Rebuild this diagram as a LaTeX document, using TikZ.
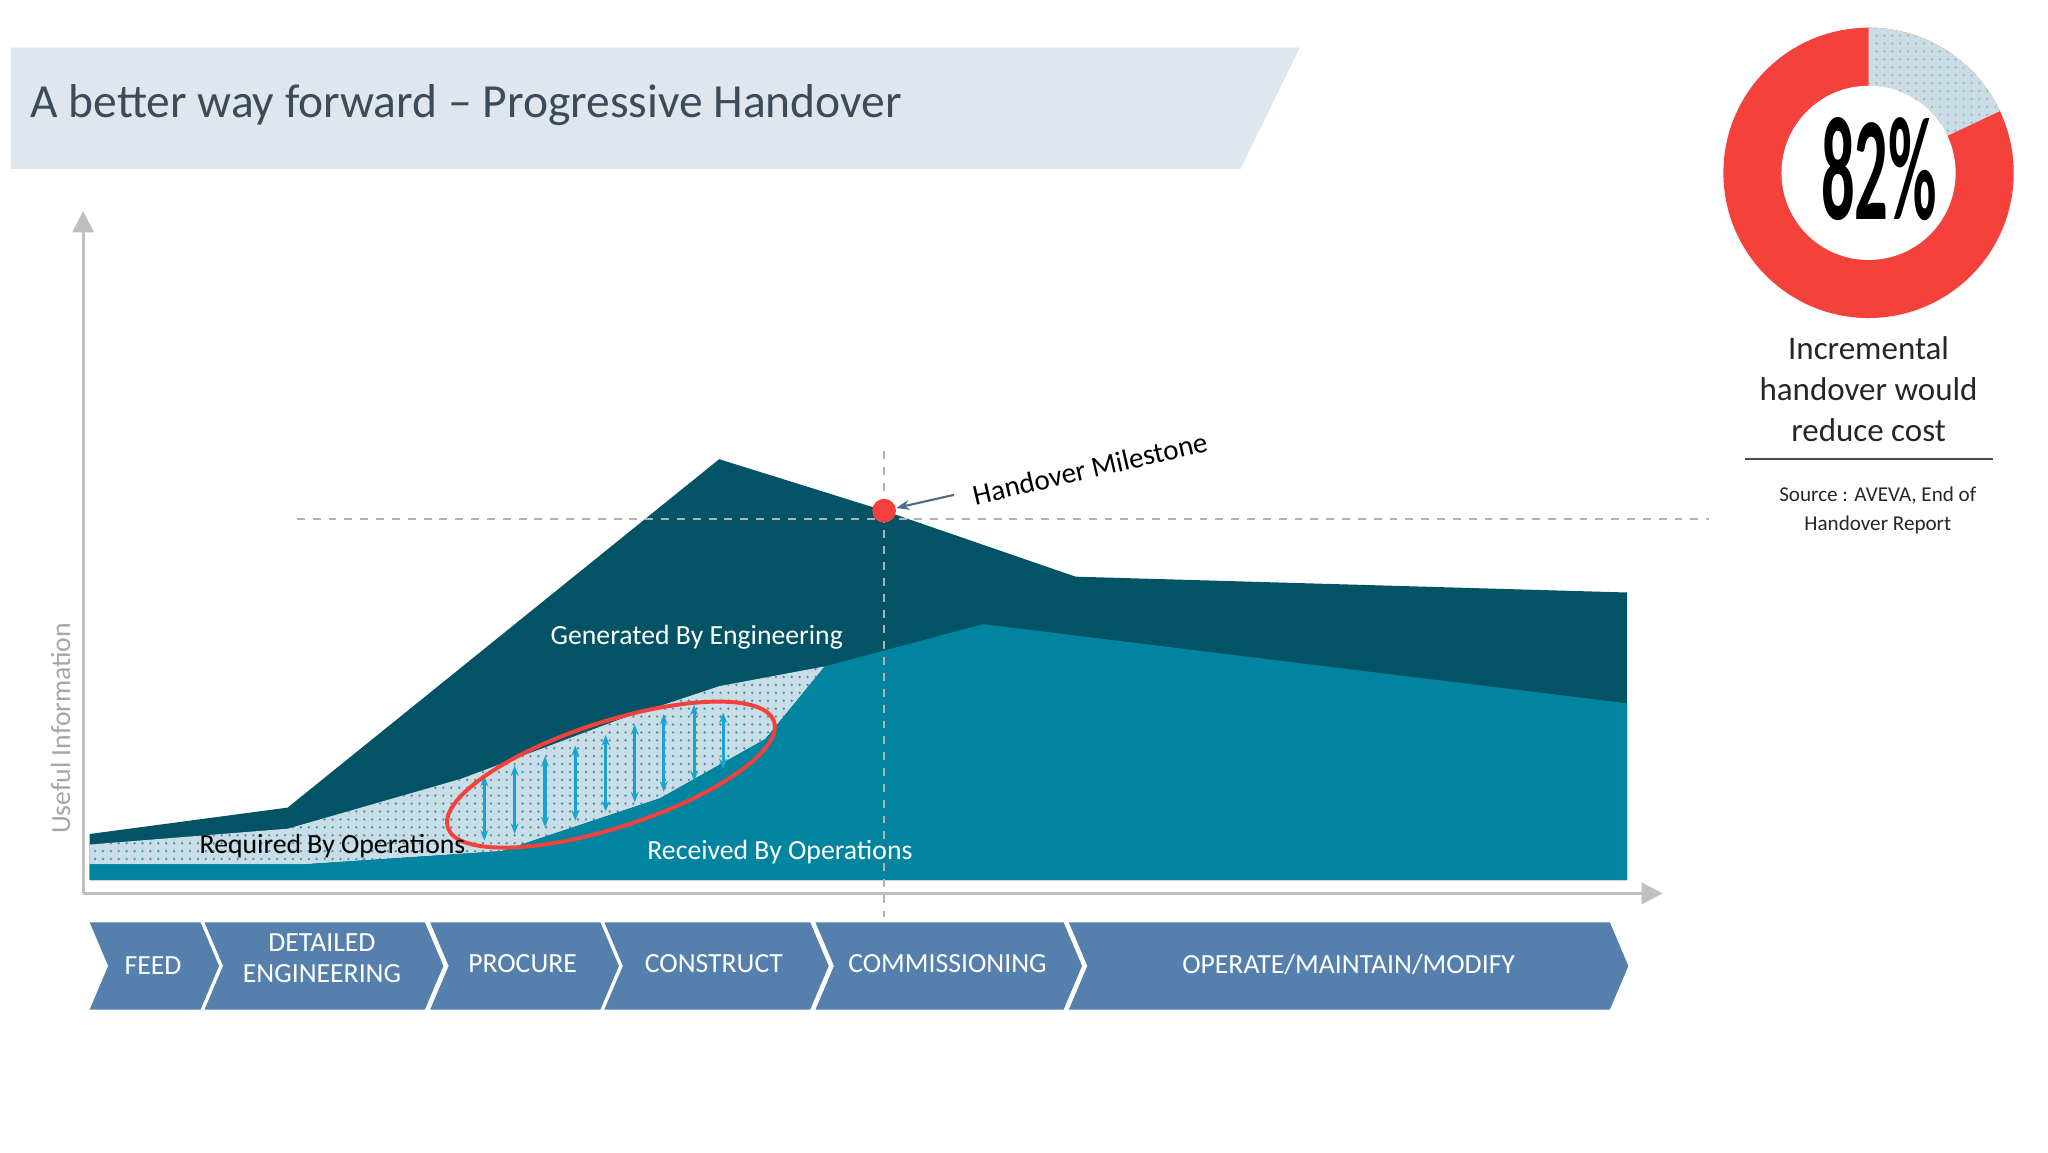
\documentclass[tikz,border=0pt]{standalone}
\usepackage{fontspec}
\setmainfont{Carlito}
\usetikzlibrary{patterns,arrows.meta}
\definecolor{dteal}{HTML}{025366}
\definecolor{mteal}{HTML}{0184A0}
\definecolor{lblue}{HTML}{C9DDE6}
\definecolor{chev}{HTML}{5580AD}
\definecolor{ared}{HTML}{F5413C}
\definecolor{abl}{HTML}{1AA3D0}
\definecolor{ttl}{HTML}{3C4B5A}
\definecolor{banner}{HTML}{DFE6EE}
\definecolor{hmarrow}{HTML}{4A6B8A}
\tikzset{chevron/.style={fill=chev,draw=none},
 ctext/.style={text=white,font=\fontsize{10.5}{11}\selectfont,align=center},
 varrow/.style={abl,line width=1.2pt,{Stealth[length=4pt]}-{Stealth[length=4pt]}},
 dashg/.style={gray!60,dashed,line width=0.8pt}}
\begin{document}
\begin{tikzpicture}[x=0.5pt,y=-0.5pt]
\useasboundingbox (0,0) rectangle (1552,873);
\fill[white] (0,0) rectangle (1552,873);
% banner
\fill[banner] (8,36) -- (985,36) -- (940,128) -- (8,128) -- cycle;
\node[anchor=west,text=ttl,font=\fontsize{18}{20}\selectfont] (title) at (16,80) {A better way forward – Progressive Handover};
% areas
\fill[dteal] (68,632) -- (218,612) -- (545,348) -- (670,387) -- (815,437) -- (1233,449) -- (1233,667) -- (68,667) -- cycle;
\fill[lblue] (68,640) -- (218,628) -- (350,590) -- (470,545) -- (545,520) -- (625,505) -- (580,560) -- (500,605) -- (380,645) -- (230,655) -- (68,655) -- cycle;
\fill[pattern=dots,pattern color=abl!50!gray] (68,640) -- (218,628) -- (350,590) -- (470,545) -- (545,520) -- (625,505) -- (580,560) -- (500,605) -- (380,645) -- (230,655) -- (68,655) -- cycle;
\fill[mteal] (68,655) -- (230,655) -- (380,645) -- (500,605) -- (580,560) -- (625,505) -- (745,473) -- (1233,533) -- (1233,667) -- (68,667) -- cycle;
% axes
\coordinate (o) at (63,677);
\coordinate (ytop) at (63,160);
\coordinate (xend) at (1260,677);
\draw[gray!50,line width=1.2pt,-{Triangle[length=8pt,width=8pt]}] (o) -- (ytop);
\draw[gray!50,line width=1.2pt,-{Triangle[length=8pt,width=8pt]}] (o) -- (xend);
\node[rotate=90,text=gray!70,font=\fontsize{10.5}{12}\selectfont] (ylab) at (46,552) {Useful Information};
% arrows
\foreach \x/\t/\b in {367/588/637,390/580/632,413/573/627,436/565/622,459/557/615,481/549/608,503/541/600,526/534/592,548/540/583}
  \draw[varrow] (\x,\b) -- (\x,\t);
\draw[ared,line width=1.5pt,rotate around={18:(463,587)}] (463,587) ellipse [x radius=130,y radius=40];
% dashed
\draw[dashg] (225,393) -- (1295,393);
\draw[dashg] (670,342) -- (670,695);
\node[circle,fill=ared,minimum size=9pt,inner sep=0pt] (hm) at (670,387) {};
\node[rotate=13,text=black,font=\fontsize{11}{12}\selectfont] (hml) at (826,355) {Handover Milestone};
\coordinate (hma) at (723,375);
\draw[hmarrow,line width=0.8pt,-{Stealth[length=5pt]}] (hma) -- (hm);
\node[text=white,font=\fontsize{10.5}{12}\selectfont] (gen) at (528,483) {Generated By Engineering};
\node[text=black,font=\fontsize{10.5}{12}\selectfont] (req) at (252,641) {Required By Operations};
\node[text=white,font=\fontsize{10.5}{12}\selectfont] (rec) at (591,646) {Received By Operations};
% chevrons
\foreach \a/\b in {68/152,155/322,326/455,458/614,618/806,810/1220}{
  \fill[chevron] (\a,699) -- (\b,699) -- (\b+14,732) -- (\b,765) -- (\a,765) -- (\a+14,732) -- cycle;
}
\node[ctext] (t1) at (116,732) {FEED};
\node[ctext,font=\fontsize{10.5}{11.5}\selectfont] (t2) at (244,726) {DETAILED\\ENGINEERING};
\node[ctext] (t3) at (396,730) {PROCURE};
\node[ctext] (t4) at (541,730) {CONSTRUCT};
\node[ctext] (t5) at (718,730) {COMMISSIONING};
\node[ctext] (t6) at (1022,731) {OPERATE/MAINTAIN/MODIFY};
% donut
\fill[ared] (1416,131) circle (110);
\fill[lblue] (1416,131) -- ++(-90:110) arc[start angle=-90,end angle=-25.2,radius=110] -- cycle;
\fill[pattern=dots,pattern color=gray!60] (1416,131) -- ++(-90:110) arc[start angle=-90,end angle=-25.2,radius=110] -- cycle;
\fill[white] (1416,131) circle (66);
\node[font=\bfseries\fontsize{56}{56}\selectfont] (pct) at (1424,128) {\scalebox{0.45}[1]{82\%}};
\node[align=center,font=\fontsize{12.5}{15.5}\selectfont,text=black!85] (inc) at (1416,295) {Incremental\\handover would\\reduce cost};
\draw[black!70,line width=0.6pt] (1322,348) -- (1510,348);
\node[align=center,font=\fontsize{8}{11}\selectfont,text=black!85] (src) at (1423,387) {Source : AVEVA, End of\\Handover Report};
\end{tikzpicture}
\end{document}
